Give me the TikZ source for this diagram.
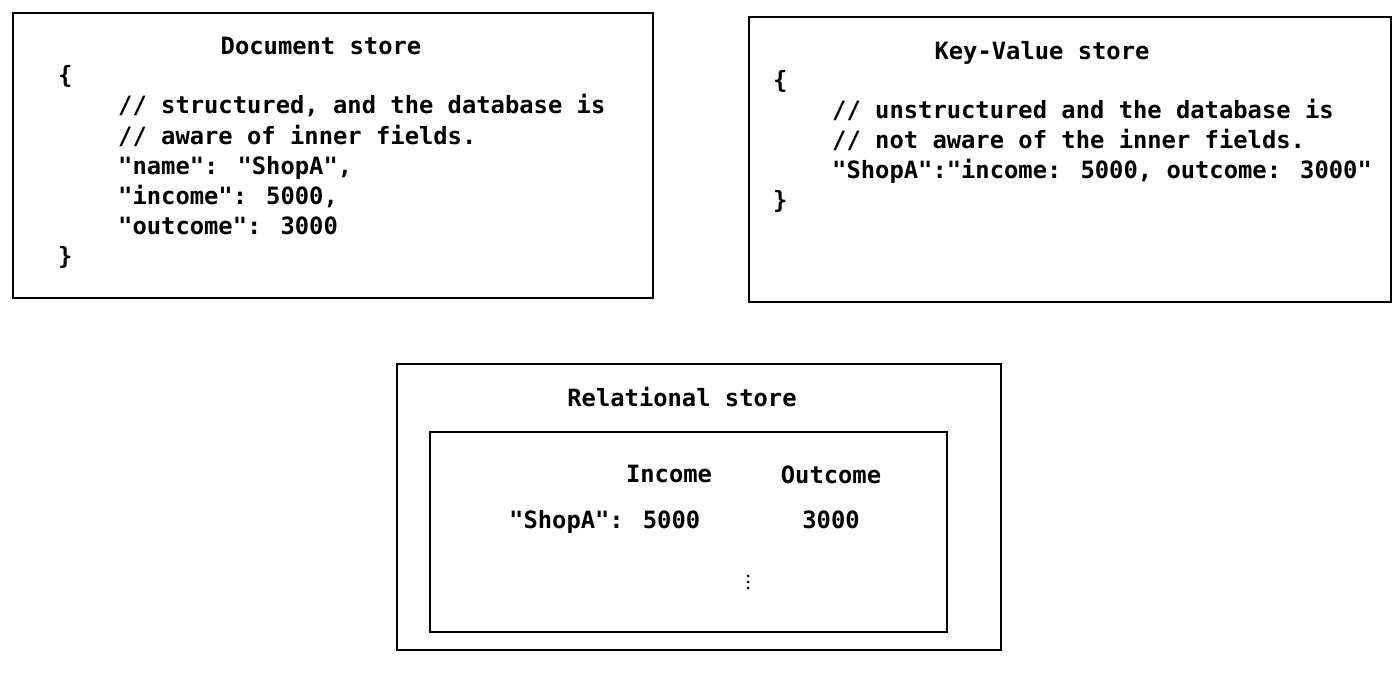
\documentclass[tikz,border=0pt]{standalone}
\usepackage{fontspec}
\newfontfamily\codefont{DejaVu Sans Mono}[BoldFont={DejaVu Sans Mono Bold}]
\begin{document}
\begin{tikzpicture}[x=1pt,y=-1pt,
  box/.style={draw, line width=1.9pt, inner sep=0pt, anchor=north west},
  code/.style={font=\codefont\bfseries\fontsize{23.8pt}{30pt}\selectfont, anchor=base west, inner sep=0pt},
  ttl/.style={code, anchor=base},
  dot/.style={circle, fill, inner sep=0pt, minimum size=3pt}]
\useasboundingbox (0,0) rectangle (1400,672);
% Document store
\node[box, minimum width=640pt, minimum height=285pt] (docbox) at (12,12) {};
\node[ttl] (doct) at (321,54) {Document store};
\node[code] (doc0) at (58,83) {\{};
\node[code] (doc1) at (118,113) {// structured, and the database is};
\node[code] (doc2) at (118,144) {// aware of inner fields.};
\node[code] (doc3) at (118,174) {"name": "ShopA",};
\node[code] (doc4) at (118,204) {"income": 5000,};
\node[code] (doc5) at (118,234) {"outcome": 3000};
\node[code] (doc6) at (58,264) {\}};
% Key-Value store
\node[box, minimum width=642pt, minimum height=285pt] (kvbox) at (748,16) {};
\node[ttl] (kvt) at (1042,59) {Key-Value store};
\node[code] (kv0) at (773,88) {\{};
\node[code] (kv1) at (832,118) {// unstructured and the database is};
\node[code] (kv2) at (832,148) {// not aware of the inner fields.};
\node[code] (kv3) at (832,178) {"ShopA":"income: 5000, outcome: 3000"};
\node[code] (kv4) at (773,208) {\}};
% Relational store
\node[box, minimum width=604pt, minimum height=286pt] (relbox) at (396,363) {};
\node[ttl] (relt) at (682,406) {Relational store};
\node[box, minimum width=517pt, minimum height=200pt] (tabbox) at (429,431) {};
\node[ttl] (inc) at (669,482) {Income};
\node[ttl] (outc) at (831,483) {Outcome};
\node[code] (shop) at (509,528) {"ShopA": 5000};
\node[ttl] (v3000) at (831,528) {3000};
\node[dot] (dota) at (748,576) {};
\node[dot] (dotb) at (748,582) {};
\node[dot] (dotc) at (748,588) {};
\end{tikzpicture}
\end{document}
